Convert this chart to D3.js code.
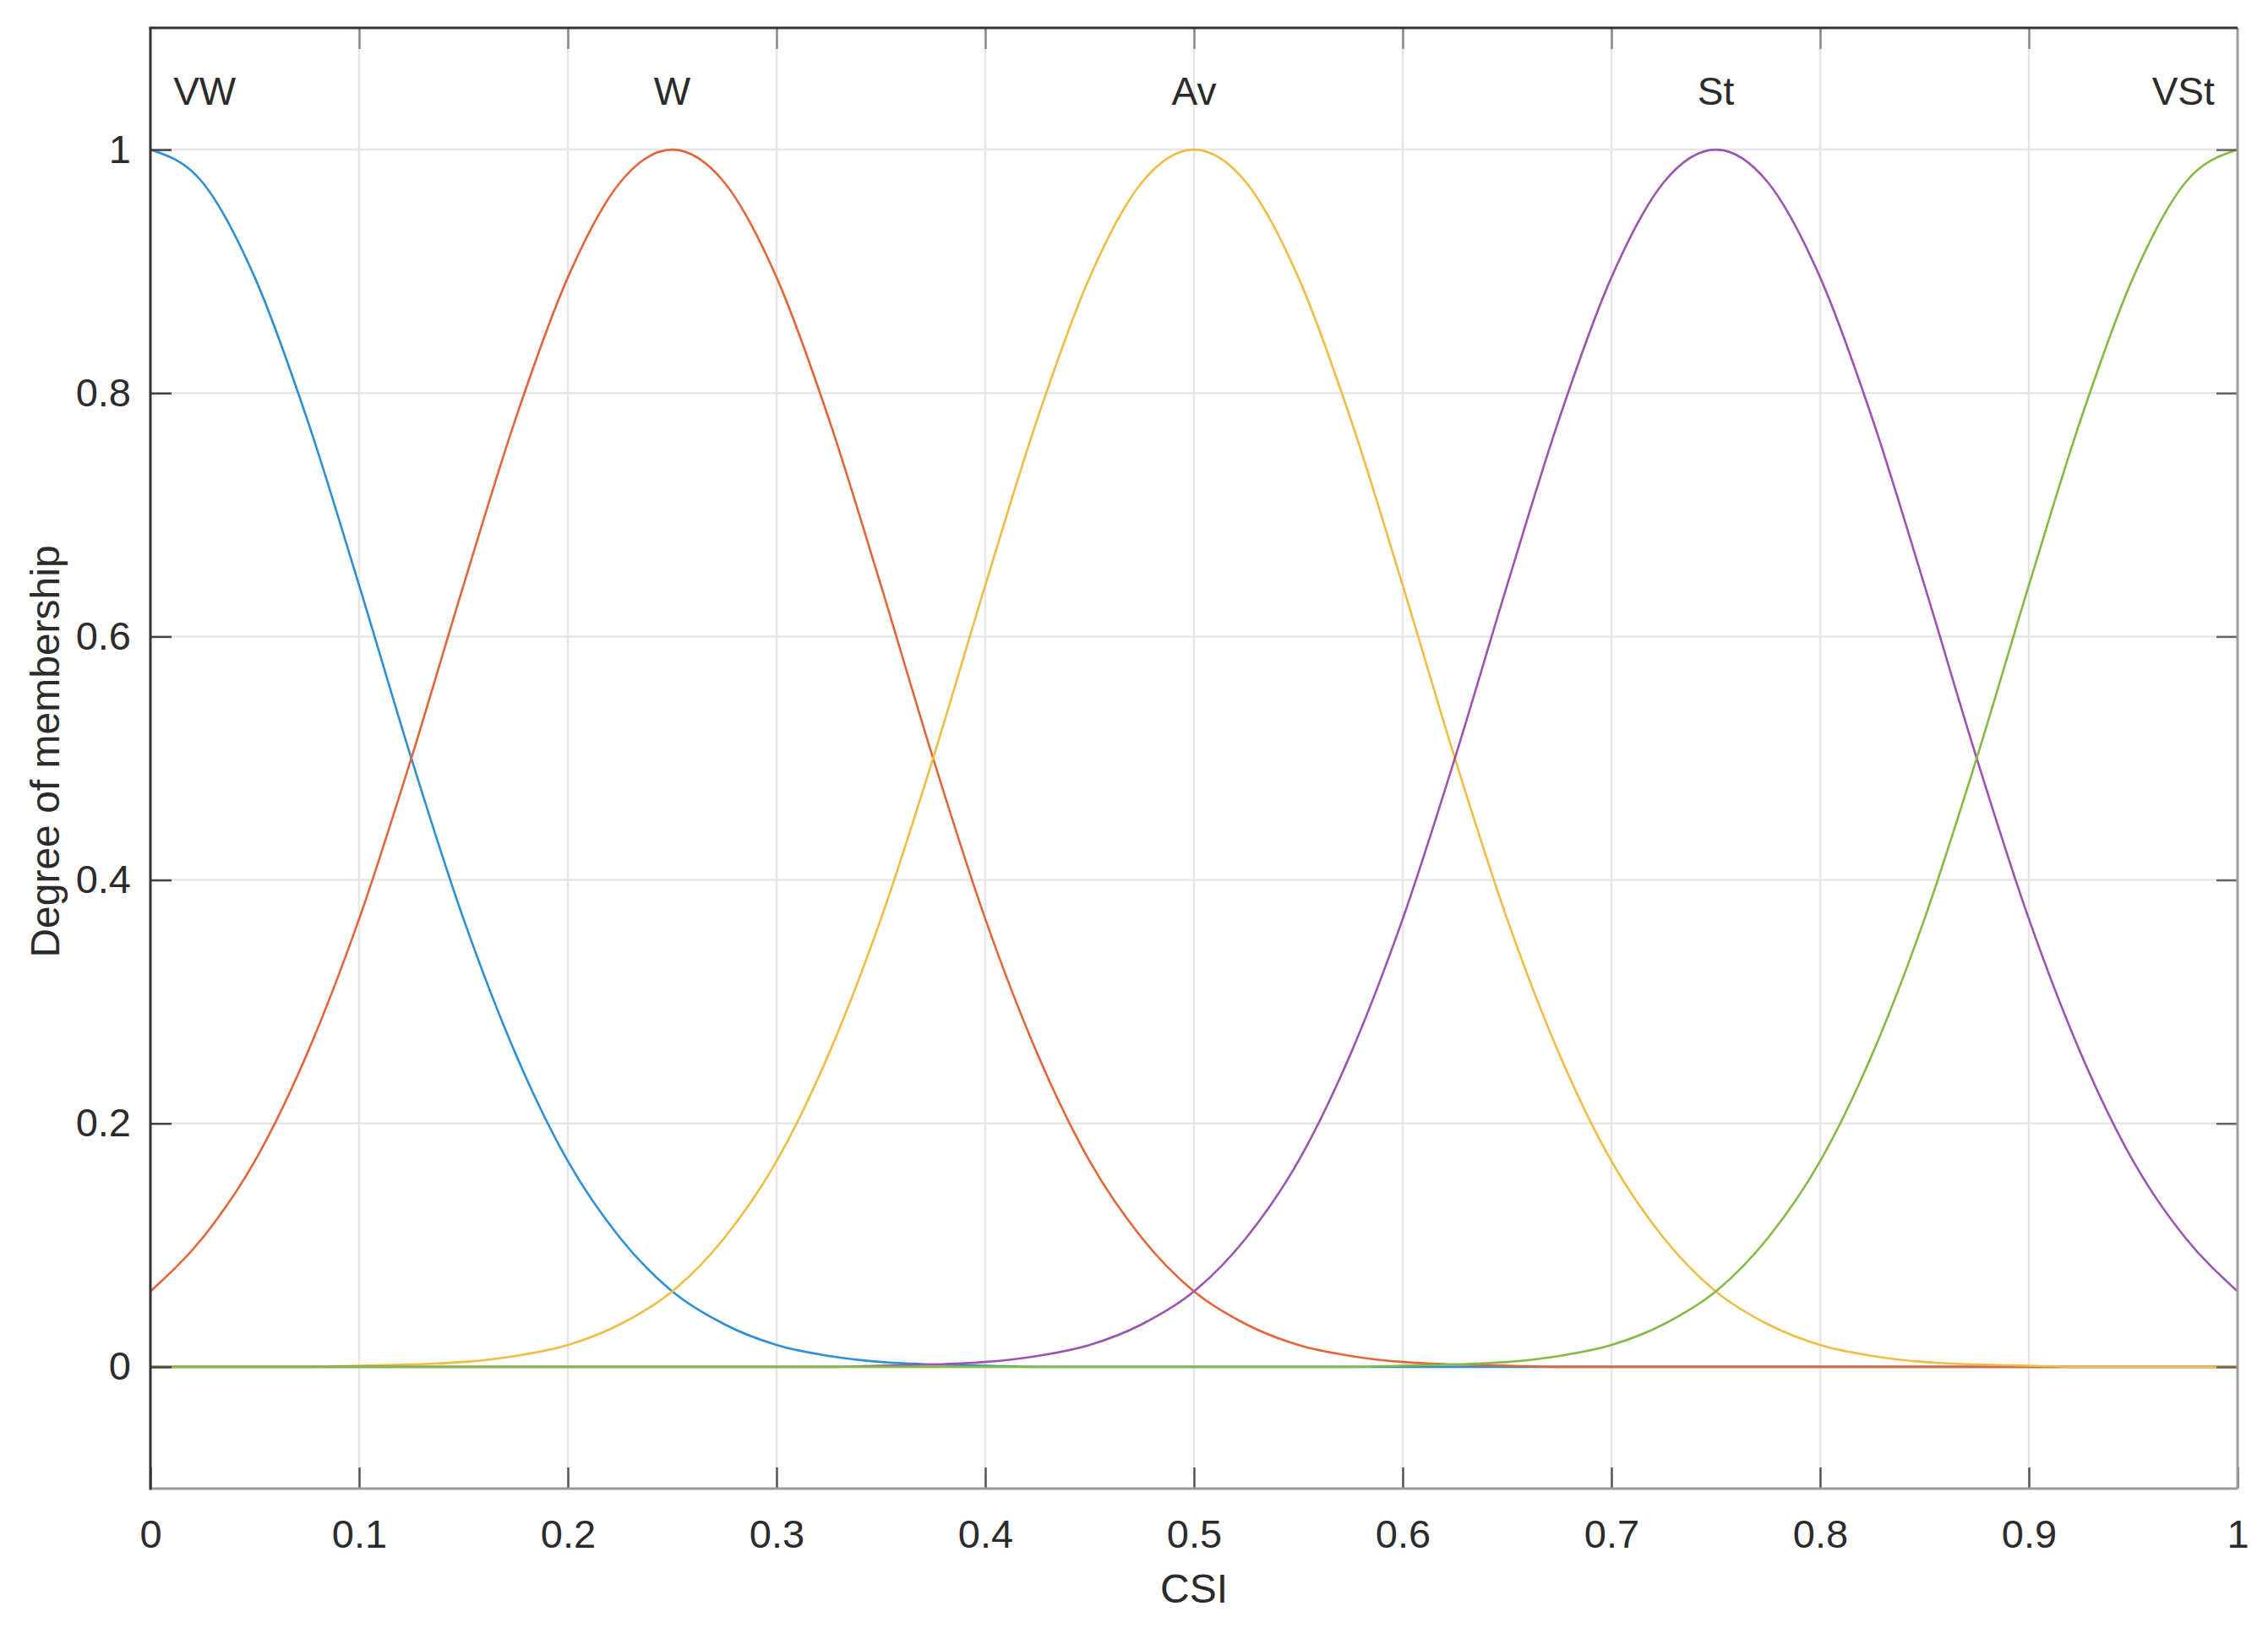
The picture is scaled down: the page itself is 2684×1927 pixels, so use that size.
<!DOCTYPE html>
<html>
<head>
<meta charset="utf-8">
<script src="https://cdn.jsdelivr.net/npm/d3@7"></script>
<style>
  body { margin: 0; background: #fff; }
  svg { display: block; background: #fff; }
  text { font-family: 'Liberation Sans', Arial, Helvetica, sans-serif; fill: #2b2b2b; }
  .grid line { stroke: #e6e6e6; stroke-width: 2.5; }
  .mf { fill: none; stroke-width: 2.6; }
</style>
</head>
<body>
<svg id="svg" width="2684" height="1927"></svg>
<script>
const W = 2684
const H = 1927
const LEFT = 178
const RIGHT = 2648
const TOP = 33
const BOTTOM = 1762
const TICK = 25
const FONT = 47

// CSI sample points (step 0.025)
const csi = d3.range(41).map(i => +(i * 0.025).toFixed(3))

const mfNames = ['VW', 'W', 'Av', 'St', 'VSt']
const mfColors = ['#2f8fd6', '#e2663a', '#efbd45', '#9a55b0', '#85bb45']
const labelX = [0.026, 0.25, 0.5, 0.75, 0.974]
const labelY = 1.037

const vw = [1.000, 0.973, 0.895, 0.779, 0.642, 0.500, 0.368, 0.257, 0.169, 0.106,
  0.062, 0.035, 0.018, 0.009, 0.004, 0.002, 0.001, 0, 0, 0,
  0, 0, 0, 0, 0, 0, 0, 0, 0, 0,
  0, 0, 0, 0, 0, 0, 0, 0, 0, 0, 0]
const w = [0.062, 0.106, 0.169, 0.257, 0.368, 0.500, 0.642, 0.779, 0.895, 0.973,
  1.000, 0.973, 0.895, 0.779, 0.642, 0.500, 0.368, 0.257, 0.169, 0.106,
  0.062, 0.035, 0.018, 0.009, 0.004, 0.002, 0.001, 0, 0, 0,
  0, 0, 0, 0, 0, 0, 0, 0, 0, 0, 0]
const av = [0, 0, 0, 0, 0.001, 0.002, 0.004, 0.009, 0.018, 0.035,
  0.062, 0.106, 0.169, 0.257, 0.368, 0.500, 0.642, 0.779, 0.895, 0.973,
  1.000, 0.973, 0.895, 0.779, 0.642, 0.500, 0.368, 0.257, 0.169, 0.106,
  0.062, 0.035, 0.018, 0.009, 0.004, 0.002, 0.001, 0, 0, 0, 0]
const st = [0, 0, 0, 0, 0, 0, 0, 0, 0, 0,
  0, 0, 0, 0, 0.001, 0.002, 0.004, 0.009, 0.018, 0.035,
  0.062, 0.106, 0.169, 0.257, 0.368, 0.500, 0.642, 0.779, 0.895, 0.973,
  1.000, 0.973, 0.895, 0.779, 0.642, 0.500, 0.368, 0.257, 0.169, 0.106, 0.062]
const vst = [0, 0, 0, 0, 0, 0, 0, 0, 0, 0,
  0, 0, 0, 0, 0, 0, 0, 0, 0, 0,
  0, 0, 0, 0, 0.001, 0.002, 0.004, 0.009, 0.018, 0.035,
  0.062, 0.106, 0.169, 0.257, 0.368, 0.500, 0.642, 0.779, 0.895, 0.973, 1.000]
const mfValues = [vw, w, av, st, vst]

const xTicks = [0, 0.1, 0.2, 0.3, 0.4, 0.5, 0.6, 0.7, 0.8, 0.9, 1]
const yTicks = [0, 0.2, 0.4, 0.6, 0.8, 1]
const xTitle = 'CSI'
const yTitle = 'Degree of membership'

const x = d3.scaleLinear().domain([0, 1]).range([LEFT, RIGHT])
const y = d3.scaleLinear().domain([-0.1, 1.1]).range([BOTTOM, TOP])

const svg = d3.select('svg')
const fmt = d => String(+d.toFixed(1))

// grid
svg.append('g').attr('class', 'grid')
  .selectAll('line').data(xTicks.slice(1, -1)).join('line')
  .attr('x1', d => x(d)).attr('x2', d => x(d))
  .attr('y1', TOP).attr('y2', BOTTOM)
svg.append('g').attr('class', 'grid')
  .selectAll('line').data(yTicks).join('line')
  .attr('x1', LEFT).attr('x2', RIGHT)
  .attr('y1', d => y(d)).attr('y2', d => y(d))

// curves
svg.append('clipPath').attr('id', 'clip')
  .append('rect').attr('x', LEFT).attr('y', TOP)
  .attr('width', RIGHT - LEFT).attr('height', BOTTOM - TOP)

const line = d3.line()
  .x((d, i) => x(csi[i]))
  .y(d => y(d))
  .curve(d3.curveMonotoneX)

svg.append('g').attr('clip-path', 'url(#clip)')
  .selectAll('path').data(mfValues).join('path')
  .attr('class', 'mf')
  .attr('stroke', (d, i) => mfColors[i])
  .attr('d', d => line(d))

// mf labels
svg.append('g')
  .selectAll('text').data(mfNames).join('text')
  .attr('x', (d, i) => x(labelX[i]))
  .attr('y', y(labelY))
  .attr('text-anchor', 'middle')
  .attr('font-size', 46)
  .text(d => d)

// axes
function styleAxis (g, color) {
  g.select('.domain').remove()
  g.selectAll('.tick line').attr('stroke', color).attr('stroke-width', 2.5)
  g.selectAll('.tick text').attr('font-size', FONT).attr('fill', '#2b2b2b')
}

const gx = svg.append('g').attr('transform', `translate(0,${BOTTOM})`)
  .call(d3.axisBottom(x).tickValues(xTicks).tickFormat(fmt)
    .tickSizeInner(-TICK).tickSizeOuter(0).tickPadding(37))
styleAxis(gx, '#555')

const gy = svg.append('g').attr('transform', `translate(${LEFT},0)`)
  .call(d3.axisLeft(y).tickValues(yTicks).tickFormat(fmt)
    .tickSizeInner(-TICK).tickSizeOuter(0).tickPadding(23))
styleAxis(gy, '#444')

const gt = svg.append('g').attr('transform', `translate(0,${TOP})`)
  .call(d3.axisTop(x).tickValues(xTicks.slice(1, -1)).tickFormat('')
    .tickSizeInner(-TICK).tickSizeOuter(0))
styleAxis(gt, '#888')

const gr = svg.append('g').attr('transform', `translate(${RIGHT},0)`)
  .call(d3.axisRight(y).tickValues(yTicks).tickFormat('')
    .tickSizeInner(-TICK).tickSizeOuter(0))
styleAxis(gr, '#666')
svg.selectAll('.tick text').attr('font-family', null)

// box
svg.append('line').attr('x1', LEFT).attr('x2', RIGHT).attr('y1', BOTTOM).attr('y2', BOTTOM)
  .attr('stroke', '#9a9a9a').attr('stroke-width', 3)
svg.append('line').attr('x1', RIGHT).attr('x2', RIGHT).attr('y1', TOP).attr('y2', BOTTOM)
  .attr('stroke', '#9a9a9a').attr('stroke-width', 3)
svg.append('line').attr('x1', LEFT - 1.5).attr('x2', RIGHT).attr('y1', TOP).attr('y2', TOP)
  .attr('stroke', '#333').attr('stroke-width', 3)
svg.append('line').attr('x1', LEFT).attr('x2', LEFT).attr('y1', TOP).attr('y2', BOTTOM + 1.5)
  .attr('stroke', '#333').attr('stroke-width', 3)

// titles
svg.append('text')
  .attr('x', (LEFT + RIGHT) / 2)
  .attr('y', 1897)
  .attr('text-anchor', 'middle')
  .attr('font-size', 48)
  .text(xTitle)

svg.append('text')
  .attr('transform', `translate(70,${(TOP + BOTTOM) / 2 - 8}) rotate(-90)`)
  .attr('text-anchor', 'middle')
  .attr('font-size', 48)
  .text(yTitle)
</script>
</body>
</html>
